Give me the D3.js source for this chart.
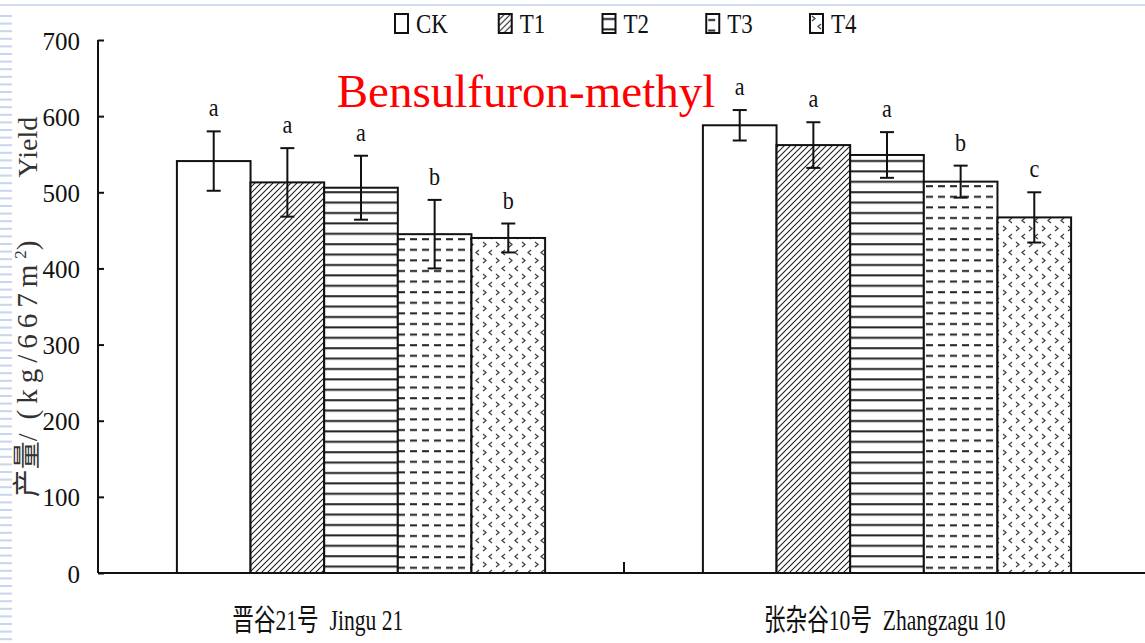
<!DOCTYPE html>
<html>
<head>
<meta charset="utf-8">
<script src="https://cdn.jsdelivr.net/npm/d3@7"></script>
<style>
  body { margin: 0; background: #fff; }
  text { font-family: "Liberation Serif", "Noto Sans CJK SC", serif; fill: #111; }
</style>
</head>
<body>
<div id="container"></div>
<script>
const groups = ["晋谷21号  Jingu 21", "张杂谷10号  Zhangzagu 10"];
const treatments = ["CK", "T1", "T2", "T3", "T4"];
const yieldMeans = [
  [541, 513, 506, 445, 440],
  [588, 562, 549, 514, 467]
];
const yieldErrors = [
  [39, 45, 42, 45, 19],
  [20, 30, 30, 21, 33]
];
const sigLetters = [
  ["a", "a", "a", "b", "b"],
  ["a", "a", "a", "b", "c"]
];
const yTicks = [0, 100, 200, 300, 400, 500, 600, 700];

const w = 1145;
const h = 643;
const svg = d3.select("#container")
  .append("svg")
  .attr("width", w)
  .attr("height", h);

svg.append("rect").attr("width", w).attr("height", h).attr("fill", "#fff");

// slide decoration: thin top rule and dashes at the left edge
svg.append("rect").attr("x", 0).attr("y", 4).attr("width", w).attr("height", 2).attr("fill", "#d3ddf1");
svg.selectAll(".stripe")
  .data(d3.range(15, h, 7.6))
  .enter()
  .append("rect")
  .attr("class", "stripe")
  .attr("x", 0)
  .attr("y", (d) => d)
  .attr("width", 12)
  .attr("height", 2)
  .attr("fill", "#c8d5ef");

// fill patterns
const defs = svg.append("defs");
const ink = "#222";

const p1 = defs.append("pattern").attr("id", "pat-T1")
  .attr("patternUnits", "userSpaceOnUse").attr("width", 6).attr("height", 6);
p1.append("rect").attr("width", 6).attr("height", 6).attr("fill", "#fff");
p1.append("path").attr("d", "M0,6 L6,0 M-1,1 L1,-1 M5,7 L7,5")
  .attr("stroke", ink).attr("stroke-width", 1.1);

const p2 = defs.append("pattern").attr("id", "pat-T2")
  .attr("patternUnits", "userSpaceOnUse").attr("width", 10).attr("height", 10.4);
p2.append("rect").attr("width", 10).attr("height", 10.4).attr("fill", "#fff");
p2.append("rect").attr("y", 4).attr("width", 10).attr("height", 2).attr("fill", ink);

const p3 = defs.append("pattern").attr("id", "pat-T3")
  .attr("patternUnits", "userSpaceOnUse").attr("width", 12).attr("height", 10.6);
p3.append("rect").attr("width", 12).attr("height", 10.6).attr("fill", "#fff");
p3.append("rect").attr("x", 2).attr("y", 5).attr("width", 7).attr("height", 2).attr("fill", ink);

const p4 = defs.append("pattern").attr("id", "pat-T4")
  .attr("patternUnits", "userSpaceOnUse").attr("width", 13).attr("height", 16);
p4.append("rect").attr("width", 13).attr("height", 16).attr("fill", "#fff");
p4.append("path")
  .attr("d", "M2,2 L5,4.5 L2,7 M11,10 L8,12.5 L11,15")
  .attr("fill", "none").attr("stroke", "#444").attr("stroke-width", 1.3);

const fills = { CK: "#fff", T1: "url(#pat-T1)", T2: "url(#pat-T2)", T3: "url(#pat-T3)", T4: "url(#pat-T4)" };

// scales
const x0 = d3.scaleBand()
  .domain(groups)
  .range([98, 1150])
  .paddingInner(0.3)
  .paddingOuter(0.15);

const x1 = d3.scaleBand()
  .domain(treatments)
  .range([0, x0.bandwidth()]);

const y = d3.scaleLinear()
  .domain([0, 700])
  .range([573, 40]);

// bars
const rows = [];
groups.forEach((g, gi) => {
  treatments.forEach((t, ti) => {
    rows.push({ group: g, key: t, value: yieldMeans[gi][ti], err: yieldErrors[gi][ti], letter: sigLetters[gi][ti] });
  });
});
const cx = (d) => x0(d.group) + x1(d.key) + x1.bandwidth() / 2;

svg.selectAll(".bar")
  .data(rows)
  .enter()
  .append("rect")
  .attr("class", "bar")
  .attr("x", (d) => x0(d.group) + x1(d.key))
  .attr("y", (d) => y(d.value))
  .attr("width", x1.bandwidth())
  .attr("height", (d) => y(0) - y(d.value))
  .attr("fill", (d) => fills[d.key])
  .attr("stroke", "#111")
  .attr("stroke-width", 2);

// error bars
const cap = 7;
const eb = svg.selectAll(".err")
  .data(rows)
  .enter()
  .append("g")
  .attr("class", "err")
  .attr("stroke", "#111")
  .attr("stroke-width", 2);
eb.append("line")
  .attr("x1", cx)
  .attr("x2", cx)
  .attr("y1", (d) => y(d.value - d.err))
  .attr("y2", (d) => y(d.value + d.err));
eb.append("line")
  .attr("x1", (d) => cx(d) - cap)
  .attr("x2", (d) => cx(d) + cap)
  .attr("y1", (d) => y(d.value + d.err))
  .attr("y2", (d) => y(d.value + d.err));
eb.append("line")
  .attr("x1", (d) => cx(d) - cap)
  .attr("x2", (d) => cx(d) + cap)
  .attr("y1", (d) => y(d.value - d.err))
  .attr("y2", (d) => y(d.value - d.err));

// significance letters
svg.selectAll(".letter")
  .data(rows)
  .enter()
  .append("text")
  .attr("class", "letter")
  .attr("transform", (d) => "translate(" + cx(d) + "," + (y(d.value + d.err) - 15) + ") scale(0.85,1)")
  .attr("text-anchor", "middle")
  .style("font-size", "26px")
  .text((d) => d.letter);

// y axis
const yAxis = d3.axisLeft(y).tickValues(yTicks).tickSize(-6).tickPadding(18);
const gy = svg.append("g")
  .attr("transform", "translate(98, 0)")
  .call(yAxis);
gy.select(".domain").attr("stroke", "#111").attr("stroke-width", 2).attr("d", "M0," + y(700) + "V" + y(0));
gy.selectAll(".tick line").attr("stroke", "#111").attr("stroke-width", 2);
gy.selectAll(".tick text").style("font-size", "25px").attr("fill", "#111").attr("dy", "0.36em");

// x axis
const gx = svg.append("g")
  .attr("transform", "translate(0, " + y(0) + ")")
  .call(d3.axisBottom(x0).tickSize(0).tickPadding(33));
gx.select(".domain").attr("stroke", "#111").attr("stroke-width", 2).attr("d", "M98,0H" + w);
gx.selectAll(".tick text")
  .style("font-size", "30px")
  .attr("fill", "#111")
  .attr("dy", "0.8em")
  .attr("x", (d, i) => (i === 0 ? -60 : -3))
  .attr("transform", "scale(0.72,1)")
  .attr("xml:space", "preserve");
const mid = (x0(groups[0]) + x0.bandwidth() + x0(groups[1])) / 2;
gx.append("line").attr("x1", mid).attr("x2", mid).attr("y1", 0).attr("y2", -11)
  .attr("stroke", "#111").attr("stroke-width", 2);

// y axis title
svg.append("text")
  .attr("transform", "translate(37, 307) rotate(-90)")
  .attr("text-anchor", "middle")
  .attr("xml:space", "preserve")
  .style("font-size", "28px")
  .style("fill", "#333")
  .html("产量/  <tspan style='font-size:29px; letter-spacing:6px'>(kg/667m</tspan>" +
        "<tspan dy='-11' style='font-size:17px'>2</tspan>" +
        "<tspan dy='11' style='font-size:29px'>)</tspan>         Yield");

// chart title
svg.append("text")
  .attr("x", 526)
  .attr("y", 107)
  .attr("text-anchor", "middle")
  .style("font-size", "47px")
  .style("fill", "#ff0000")
  .text("Bensulfuron-methyl");

// legend
const lx = d3.scalePoint().domain(treatments).range([395, 810]);
const legend = svg.append("g");
const li = legend.selectAll(".li")
  .data(treatments)
  .enter()
  .append("g")
  .attr("transform", (d) => "translate(" + lx(d) + ", 14)");
li.append("rect")
  .attr("width", 13)
  .attr("height", 19)
  .attr("fill", (d) => fills[d])
  .attr("stroke", "#111")
  .attr("stroke-width", 2);
li.append("text")
  .attr("transform", "translate(21, 19) scale(0.85,1)")
  .style("font-size", "27px")
  .text((d) => d);
</script>
</body>
</html>
